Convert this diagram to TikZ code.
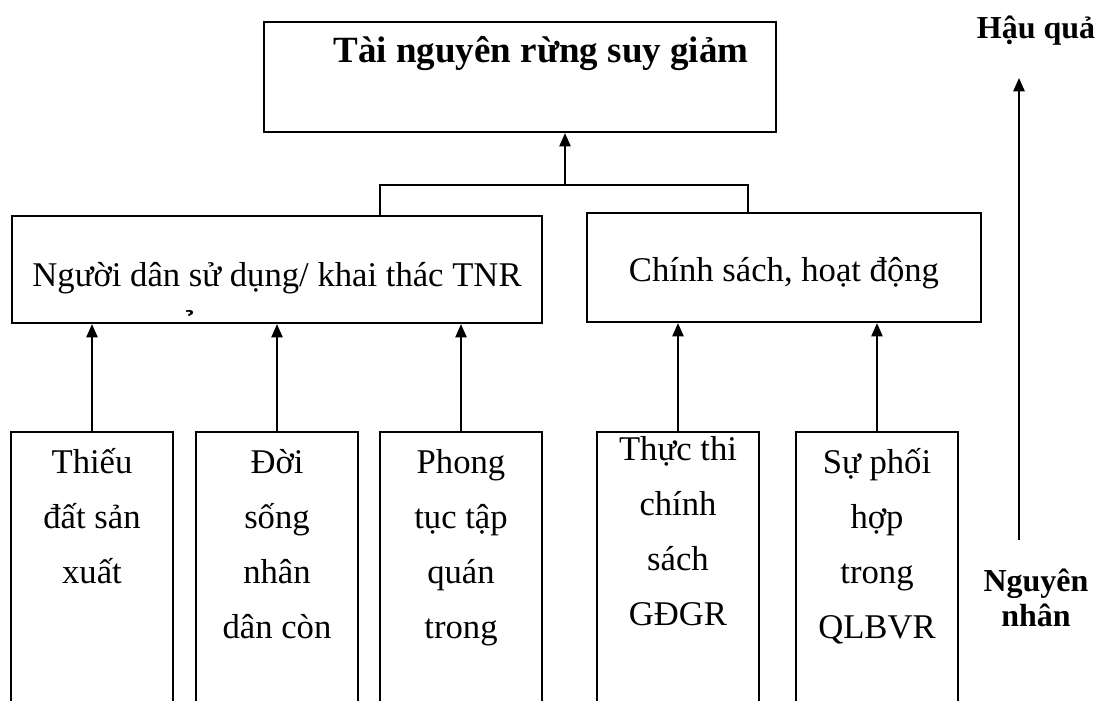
\documentclass[tikz,border=0pt]{standalone}
\usepackage{fontspec}
\setmainfont{Liberation Serif}
\usetikzlibrary{arrows.meta,positioning,calc}

\def\px{0.75pt}

\begin{document}
\begin{tikzpicture}[
    x=0.75pt, y=-0.75pt,
    font=\fontsize{26}{41.25}\selectfont,
    frame/.style={rectangle, draw, line width=1.7pt, inner sep=0pt,
                  minimum width=#1*\px},
    flow/.style={-{Triangle[length=10pt,width=8.5pt]}, line width=1.3pt},
    tie/.style={line width=1.1pt},
    lines/.style={align=center, inner sep=0pt, anchor=north},
    side/.style={font=\fontsize{24}{26}\selectfont\bfseries, align=center, inner sep=0pt}
  ]
\useasboundingbox (0,0) rectangle (1098,700);

% ---------------- effect ----------------
\node[frame=512, minimum height=110*\px] (top) at (520,77) {};
\node[font=\fontsize{27.75}{30}\selectfont\bfseries] (toptext) at (541,54)
  {Tài nguyên rừng suy giảm};

% ---------------- groups ----------------
\node[frame=530, minimum height=107*\px, text height=26pt, text depth=0pt]
  (people) at (277,269.5) {Người dân sử dụng/ khai thác TNR};
\node[frame=394, minimum height=109*\px, text height=21pt, text depth=0pt]
  (policy) at (784,267.5) {Chính sách, hoạt động};
\node[inner sep=0pt] (hook) at (194,326) {\char"0309};

% ---------------- groups -> effect ----------------
\coordinate (jl) at (380,185);
\coordinate (jr) at (748,185);
\coordinate (jm) at (565,185);
\draw[tie] (people.north -| jl) -- (jl) -- (jr) -- (policy.north -| jr);
\draw[flow] (jm) -- (top.south -| jm);

% ---------------- causes (run past the page foot) ----------------
\foreach \n/\x in {c1/92, c2/277, c3/461, c4/678, c5/877}
  \node[frame=162, minimum height=330*\px, anchor=north] (\n) at (\x,431) {};

\node[lines] (t1) at ($(c1.north)+(0,3.5)$) {\strut Thiếu\\đất sản\\xuất};
\node[lines] (t2) at ($(c2.north)+(0,3.5)$) {\strut Đời\\sống\\nhân\\dân còn};
\node[lines] (t3) at ($(c3.north)+(0,3.5)$) {\strut Phong\\tục tập\\quán\\trong};
\node[lines] (t4) at ($(c4.north)+(0,-9.5)$) {\strut Thực thi\\chính\\sách\\GĐGR};
\node[lines] (t5) at ($(c5.north)+(0,3.5)$) {\strut Sự phối\\hợp\\trong\\QLBVR};

\foreach \n in {c1,c2,c3}
  \draw[flow] (\n.north) -- (people.south -| \n.north);
\foreach \n in {c4,c5}
  \draw[flow] (\n.north) -- (policy.south -| \n.north);

% ---------------- cause -> effect axis ----------------
\node[side] (effect) at (1036,31) {Hậu quả};
\node[side] (reason) at (1036,598) {Nguyên\\nhân};
\coordinate (axisfoot) at (1019,540);
\coordinate (axishead) at (1019,78);
\draw[flow] (axisfoot) -- (axishead);

\end{tikzpicture}
\end{document}
